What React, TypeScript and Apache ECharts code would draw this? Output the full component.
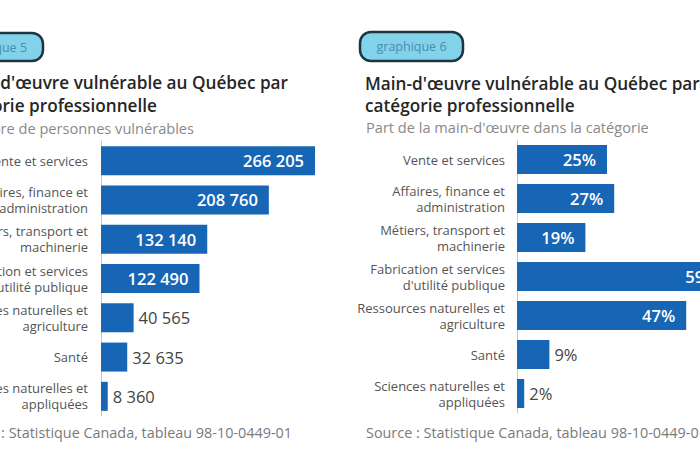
import React, { useEffect, useRef } from "react";
import * as echarts from "echarts";

const categories = [
  "Vente et services",
  "Affaires, finance et\nadministration",
  "Métiers, transport et\nmachinerie",
  "Fabrication et services\nd'utilité publique",
  "Ressources naturelles et\nagriculture",
  "Santé",
  "Sciences naturelles et\nappliquées",
];
const countValues = [266205, 208760, 132140, 122490, 40565, 32635, 8360];
const shareValues = [25, 27, 19, 59, 47, 9, 2];

const FONT = "'Open Sans', Lato, sans-serif";
const BAR = "#1766b5";

const fmtSpace = (v: number) =>
  String(v).replace(/\B(?=(\d{3})+(?!\d))/g, " ");

function buildData(values: number[], pxPerUnit: number, fmt: (v: number) => string) {
  return values.map((v) => {
    const inside = v * pxPerUnit > 50;
    return {
      value: v,
      label: {
        show: true,
        position: inside ? "insideRight" : "right",
        distance: inside ? 11 : 5,
        color: inside ? "#ffffff" : "#444444",
        fontWeight: inside ? 600 : "normal",
        fontSize: 16.5,
        fontFamily: FONT,
        formatter: () => fmt(v),
      },
    };
  });
}

export default function App() {
  const ref = useRef<HTMLDivElement>(null);
  useEffect(() => {
    if (!ref.current) return;
    const chart = echarts.init(ref.current, null, { renderer: "svg" });
    const leftMax = 300000;
    const leftWidth = 241.2;
    const rightMax = 100;
    const rightWidth = 360;
    const axisLabel = (margin: number) => ({
      fontSize: 13,
      color: "#555",
      fontFamily: FONT,
      lineHeight: 16,
      margin,
      align: "right" as const,
    });
    const yAxisCommon = {
      type: "category" as const,
      data: categories,
      inverse: true,
      axisTick: { show: false },
      axisLine: { show: true, lineStyle: { color: "#c9c9c9", width: 1 } },
      splitLine: { show: false },
    };
    const titleStyle = { fontSize: 17.2, fontWeight: 600, fill: "#262626", fontFamily: FONT };
    const subStyle = { fontSize: 14.6, fill: "#8a8a8a", fontFamily: FONT };
    const srcStyle = { fontSize: 14.4, fill: "#7a7a7a", fontFamily: FONT };
    const badgeText = { fontSize: 12.5, fill: "#4a8db3", fontFamily: FONT, align: "center", verticalAlign: "middle" };
    chart.setOption({
      animation: false,
      backgroundColor: "#ffffff",
      grid: [
        { left: 101, top: 141, width: leftWidth, height: 275, containLabel: false, outerBoundsMode: "none" },
        { left: 517, top: 140, width: rightWidth, height: 273, containLabel: false, outerBoundsMode: "none" },
      ],
      xAxis: [
        { type: "value", gridIndex: 0, min: 0, max: leftMax, show: false },
        { type: "value", gridIndex: 1, min: 0, max: rightMax, show: false },
      ],
      yAxis: [
        { ...yAxisCommon, gridIndex: 0, axisLabel: axisLabel(13) },
        { ...yAxisCommon, gridIndex: 1, axisLabel: axisLabel(12) },
      ],
      series: [
        {
          type: "bar",
          xAxisIndex: 0,
          yAxisIndex: 0,
          barWidth: 29,
          itemStyle: { color: BAR },
          data: buildData(countValues, leftWidth / leftMax, fmtSpace),
        },
        {
          type: "bar",
          xAxisIndex: 1,
          yAxisIndex: 1,
          barWidth: 29,
          itemStyle: { color: BAR },
          data: buildData(shareValues, rightWidth / rightMax, (v) => v + "%"),
        },
      ],
      graphic: [
        {
          type: "rect",
          shape: { x: -60, y: 33, width: 103, height: 28, r: 11 },
          style: { fill: "#82d2ea", stroke: "#1d3541", lineWidth: 2.5 },
        },
        { type: "text", x: -8, y: 47, style: { ...badgeText, text: "graphique 5" } },
        {
          type: "rect",
          shape: { x: 360, y: 32, width: 103, height: 29, r: 11 },
          style: { fill: "#82d2ea", stroke: "#1d3541", lineWidth: 2.5 },
        },
        { type: "text", x: 411.5, y: 46.5, style: { ...badgeText, text: "graphique 6" } },
        // left panel texts (cropped at the left edge)
        { type: "text", x: 288, y: 82, style: { ...titleStyle, text: "Main-d'œuvre vulnérable au Québec par", align: "right", verticalAlign: "middle" } },
        { type: "text", x: 157, y: 105, style: { ...titleStyle, text: "catégorie professionnelle", align: "right", verticalAlign: "middle" } },
        { type: "text", x: 194, y: 128, style: { ...subStyle, text: "Nombre de personnes vulnérables", align: "right", verticalAlign: "middle" } },
        { type: "text", x: 292, y: 432, style: { ...srcStyle, text: "Source : Statistique Canada, tableau 98-10-0449-01", align: "right", verticalAlign: "middle" } },
        // right panel texts
        { type: "text", x: 365, y: 83, style: { ...titleStyle, text: "Main-d'œuvre vulnérable au Québec par", align: "left", verticalAlign: "middle" } },
        { type: "text", x: 365, y: 105, style: { ...titleStyle, text: "catégorie professionnelle", align: "left", verticalAlign: "middle" } },
        { type: "text", x: 366, y: 127, style: { ...subStyle, text: "Part de la main-d'œuvre dans la catégorie", align: "left", verticalAlign: "middle" } },
        { type: "text", x: 366, y: 432, style: { ...srcStyle, text: "Source : Statistique Canada, tableau 98-10-0449-01", align: "left", verticalAlign: "middle" } },
      ],
    });
    return () => chart.dispose();
  }, []);
  return (
    <div
      ref={ref}
      style={{ position: "fixed", left: 0, top: 0, width: 700, height: 450 }}
    />
  );
}
